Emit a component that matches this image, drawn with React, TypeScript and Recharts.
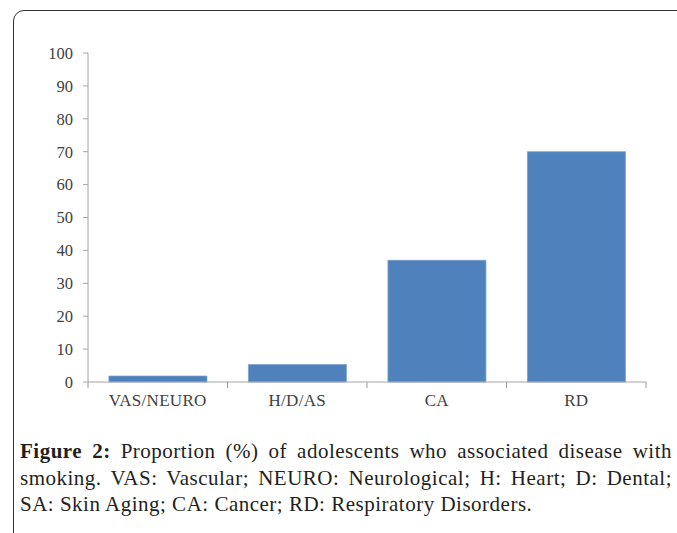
import { BarChart, Bar, XAxis, YAxis } from 'recharts'

const categories = ['VAS/NEURO', 'H/D/AS', 'CA', 'RD']
const proportions = [1.8, 5.3, 37, 70]
const yTicks = [0, 10, 20, 30, 40, 50, 60, 70, 80, 90, 100]

const BAR = '#4f81bd'
const AXIS = '#a6a6a6'
const LABEL = '#404040'
const SERIF = '"Liberation Serif", "Times New Roman", serif'

const data = categories.map((name, i) => ({ name, value: proportions[i] }))

const tickFont = { fontSize: 17, fill: LABEL, fontFamily: SERIF }

// category label plus the small boundary ticks between categories
function CategoryTick(props: any) {
  const { x, y, payload, index } = props
  const half = payload.offset || 0
  const last = index === categories.length - 1
  return (
    <g>
      <line x1={x - half} x2={x - half} y1={y - 12} y2={y - 6} stroke="#999" />
      {last && <line x1={x + half} x2={x + half} y1={y - 12} y2={y - 6} stroke="#999" />}
      <text x={x} y={y} dy="0.71em" textAnchor="middle" {...tickFont} letterSpacing={0.3}>
        {payload.value}
      </text>
    </g>
  )
}

export default function App() {
  return (
    <div style={{ position: 'absolute', left: 0, top: 0, width: 677, height: 533, overflow: 'hidden', background: '#fff' }}>
      {/* framed box, only the top and left edges are visible */}
      <div
        style={{
          position: 'absolute', left: 13, top: 10, width: 760, height: 620,
          border: '1.5px solid #333', borderRadius: 11, boxSizing: 'border-box',
        }}
      />
      <div style={{ position: 'absolute', left: 0, top: 0 }}>
        <BarChart
          width={677}
          height={425}
          data={data}
          margin={{ top: 53, right: 31, left: 0, bottom: 13 }}
          barCategoryGap="15%"
        >
          <XAxis
            dataKey="name"
            tick={<CategoryTick />}
            axisLine={{ stroke: AXIS }}
            tickLine={false}
            tickSize={0}
            tickMargin={12}
            height={30}
          />
          <YAxis
            domain={[0, 100]}
            ticks={yTicks}
            interval={0}
            tick={{ ...tickFont, fontSize: 16.5 }}
            axisLine={{ stroke: AXIS }}
            tickLine={{ stroke: AXIS }}
            tickSize={5}
            tickMargin={10}
            width={88}
          />
          <Bar dataKey="value" fill={BAR} stroke="#7a9fcf" strokeWidth={0.8} isAnimationActive={false} />
        </BarChart>
      </div>
      <div
        style={{
          position: 'absolute', left: 20, top: 438, width: 652, fontFamily: SERIF, fontSize: 21,
          lineHeight: '26.5px', color: '#231f20', letterSpacing: 0.5,
        }}
      >
        <div style={{ textAlign: 'justify', textAlignLast: 'justify', whiteSpace: 'nowrap' }}>
          <b>Figure 2:</b> Proportion (%) of adolescents who associated disease with
        </div>
        <div style={{ textAlign: 'justify', textAlignLast: 'justify' }}>
          smoking. VAS: Vascular; NEURO: Neurological; H: Heart; D: Dental;
        </div>
        <div style={{ whiteSpace: 'nowrap' }}>SA: Skin Aging; CA: Cancer; RD: Respiratory Disorders.</div>
      </div>
    </div>
  )
}
